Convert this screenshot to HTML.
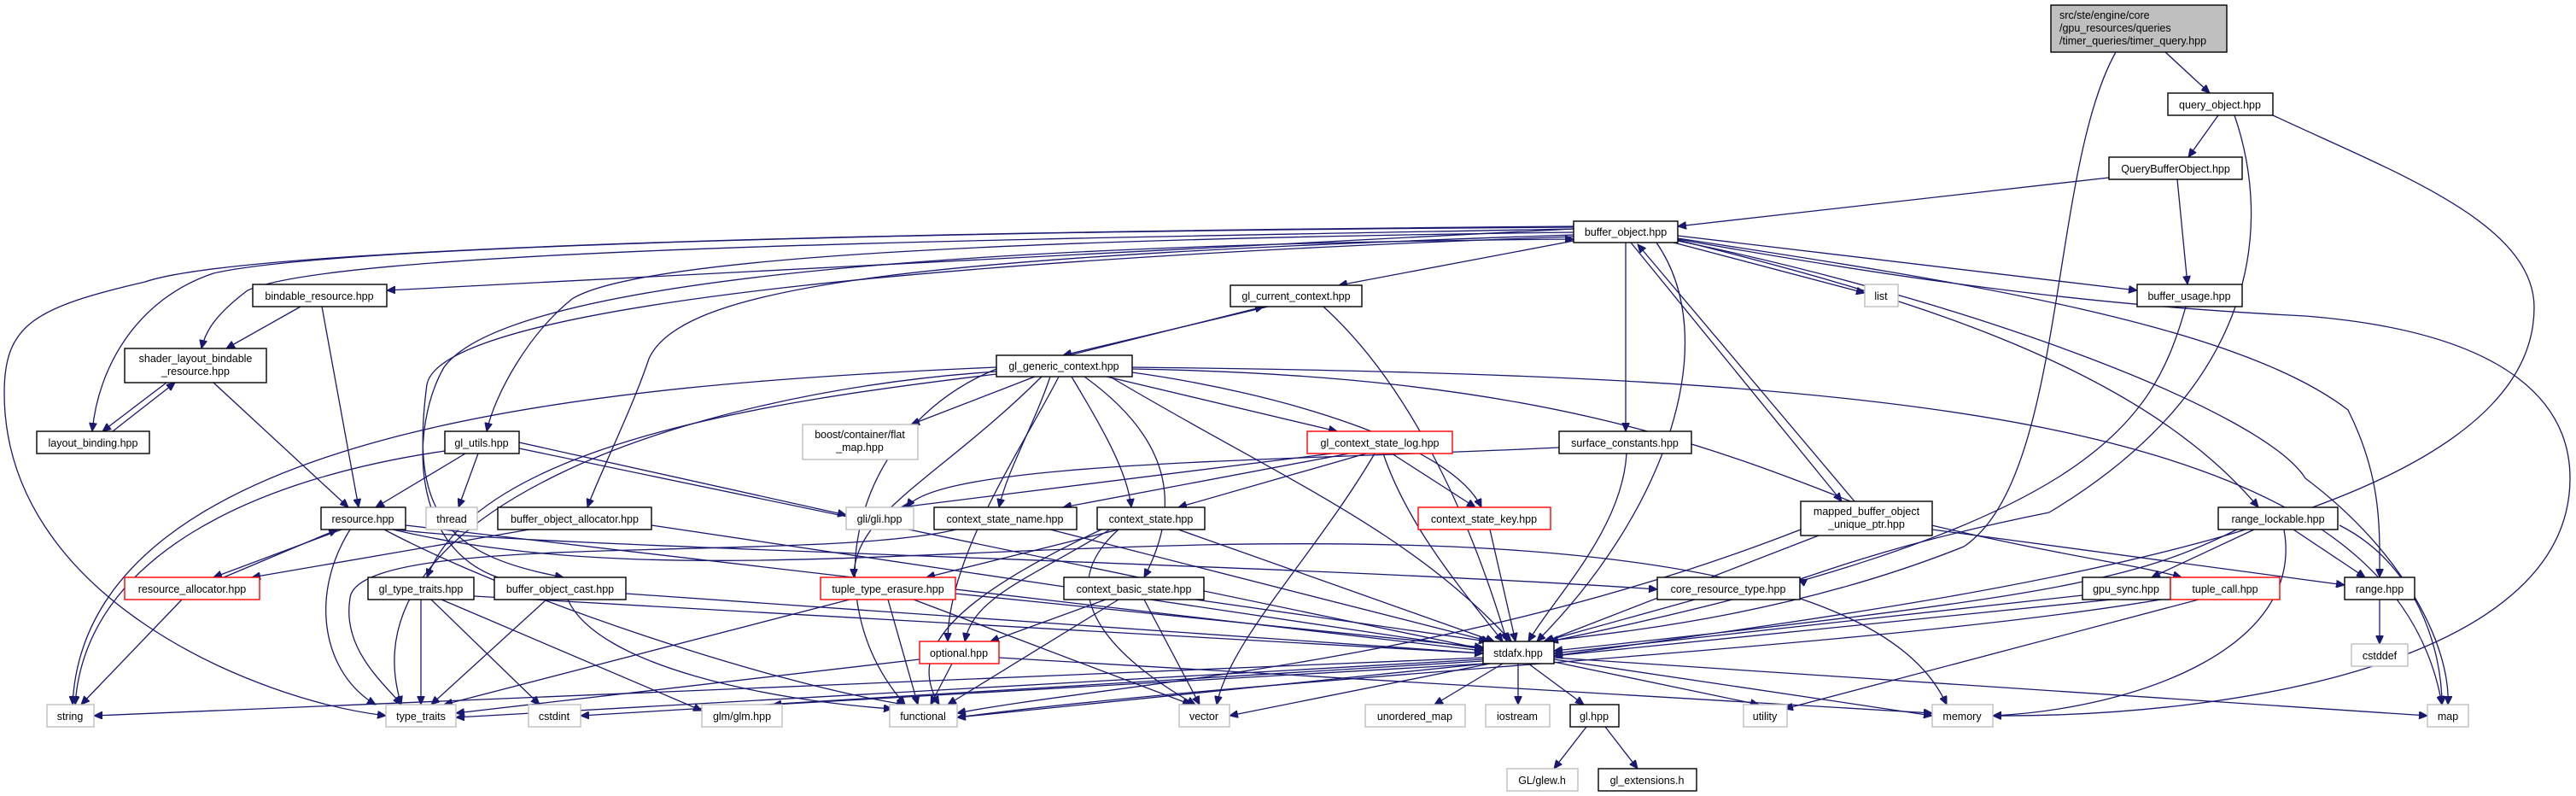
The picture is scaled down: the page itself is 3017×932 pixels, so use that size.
<!DOCTYPE html>
<html><head><meta charset="utf-8"><style>
html,body{margin:0;padding:0;background:#fff;}
svg{display:block}
text{font-family:"Liberation Sans",Arial,sans-serif;font-size:12.5px;fill:#000;text-anchor:middle;}
.e path{fill:none;stroke:#191970;stroke-width:1.3;marker-end:url(#a);}
.n rect{fill:#fff;stroke:#000;stroke-width:1.4;}
.g rect{fill:#fff;stroke:#bfbfbf;stroke-width:1.4;}
.r rect{fill:#fff;stroke:#ff0000;stroke-width:1.4;}
</style></head><body>
<svg width="3017" height="932" viewBox="0 0 3017 932" xmlns="http://www.w3.org/2000/svg">
<defs><marker id="a" markerUnits="userSpaceOnUse" markerWidth="11" markerHeight="9" refX="10" refY="4.5" orient="auto"><path d="M0,0 L10,4.5 L0,9 z" fill="#191970" stroke="#191970"/></marker></defs>
<g class="e">
<!-- root -->
<path d="M2536 61 L2588 109"/>
<path d="M2478 61 C2400 200 2420 560 2300 640 C2100 720 1900 740 1808 751"/>
<!-- query_object -->
<path d="M2598 135 L2563 184"/>
<path d="M2617 135 C2660 260 2650 450 2400 600 C2200 640 2110 680 2106 678"/>
<path d="M2662 135 C2800 200 2968 260 2968 360 C2968 620 2300 700 1820 768"/>
<!-- QBO -->
<path d="M2470 208 L1965 265"/>
<path d="M2550 210 L2562 333"/>
<!-- buffer_object -->
<path d="M1960 284 L2184 343"/>
<path d="M1965 276 L2503 340"/>
<path d="M1965 280 C2300 340 2500 360 2700 370 C2950 390 3010 480 3010 560 C3010 780 2600 840 2334 838"/>
<path d="M1965 279 C2300 330 2620 380 2750 480 C2790 560 2787 620 2787 676"/>
<path d="M1965 281 C2200 340 2500 420 2645 594"/>
<path d="M1965 282 C2300 350 2650 480 2700 560 C2820 650 2870 760 2867 825"/>
<path d="M1910 284 L2157 587"/>
<path d="M2172 587 L1918 286"/>
<path d="M1904 284 L1904 505"/>
<path d="M1940 284 C2020 400 1950 600 1800 751"/>
<path d="M1843 282 L1568 334"/>
<path d="M1843 268 L453 340"/>
<path d="M1843 268 C1200 280 400 290 290 340 C250 370 240 390 236 408"/>
<path d="M1843 266 C1200 270 400 285 250 320 C160 350 115 430 108 505"/>
<path d="M1843 265 C1200 270 300 285 170 330 C40 360 5 380 5 460 C5 700 300 820 452 838"/>
<path d="M1843 272 C1200 280 750 300 670 350 C620 390 580 460 570 505"/>
<path d="M1843 275 C1100 300 800 330 760 420 C740 480 700 560 688 594"/>
<path d="M1843 277 C1200 300 520 350 500 450 C480 600 520 650 660 676"/>
<path d="M583 676 C480 640 480 500 520 430 C600 320 1200 285 1843 280"/>
<!-- bindable -->
<path d="M352 359 L265 408"/>
<path d="M377 359 L420 594"/>
<!-- shader_layout / layout_binding -->
<path d="M195 448 L120 505"/>
<path d="M132 505 L205 448"/>
<path d="M250 448 L408 594"/>
<!-- gl_current_context -->
<path d="M1485 359 L1245 416"/>
<path d="M1252 416 L1480 359"/>
<path d="M1550 359 C1650 450 1720 600 1765 751"/>
<!-- gl_generic -->
<path d="M1212 441 L1067 497"/>
<path d="M1296 441 L1566 505"/>
<path d="M1230 441 C1210 500 1180 550 1170 594"/>
<path d="M1255 441 C1290 500 1320 550 1325 594"/>
<path d="M1270 441 C1380 520 1380 600 1340 676"/>
<path d="M1220 441 C1100 560 1000 600 1000 676"/>
<path d="M1240 441 C1200 520 1110 650 1110 751"/>
<path d="M1167 432 C1000 500 950 700 1060 825"/>
<path d="M1167 430 C700 450 100 500 85 825"/>
<path d="M1167 435 C800 460 400 600 470 825"/>
<path d="M1167 438 C900 470 560 520 500 676"/>
<path d="M1326 436 C1500 460 1700 520 1735 594"/>
<path d="M1326 432 C1800 440 2000 520 2200 600 C2400 650 2500 660 2555 676"/>
<path d="M1326 430 C2200 440 2800 480 2860 825"/>
<path d="M1300 441 C1500 560 1650 620 1770 751"/>
<!-- gl_context_state_log -->
<path d="M1560 531 L1055 594"/>
<path d="M1580 531 L1245 594"/>
<path d="M1600 531 L1380 594"/>
<path d="M1630 531 L1728 594"/>
<path d="M1620 531 C1650 620 1720 700 1760 751"/>
<path d="M1610 531 C1540 650 1440 750 1425 825"/>
<!-- surface -->
<path d="M1826 524 C1500 540 1100 540 1062 594"/>
<path d="M1905 531 C1900 620 1820 700 1790 751"/>
<!-- gl_utils -->
<path d="M545 531 L440 594"/>
<path d="M560 531 L537 594"/>
<path d="M608 518 L991 603"/>
<path d="M608 525 L1737 760"/>
<path d="M521 528 C300 560 100 650 88 825"/>
<!-- buffer_object_allocator -->
<path d="M620 620 L295 676"/>
<path d="M763 615 L1737 760"/>
<!-- resource -->
<path d="M400 620 L250 676"/>
<path d="M262 676 L395 620"/>
<path d="M410 620 C360 700 380 790 440 825"/>
<path d="M450 620 C600 700 900 800 1060 825"/>
<path d="M460 620 C800 700 1200 620 1700 640 C2150 660 2250 760 2280 825"/>
<path d="M465 620 C600 640 1500 660 1941 690"/>
<path d="M475 615 L1737 762"/>
<!-- resource_allocator -->
<path d="M213 702 L95 825"/>
<!-- gl_type_traits -->
<path d="M493 702 L493 825"/>
<path d="M505 702 L632 825"/>
<path d="M517 702 L822 832"/>
<path d="M555 698 L1737 765"/>
<!-- buffer_object_cast -->
<path d="M640 702 L505 825"/>
<path d="M665 702 C700 780 900 820 1045 830"/>
<path d="M733 695 L1737 765"/>
<!-- context_state_name -->
<path d="M1230 620 L1745 751"/>
<path d="M1120 620 C950 660 420 620 410 700 C400 760 450 800 470 825"/>
<!-- context_state -->
<path d="M1310 620 L1085 676"/>
<path d="M1300 620 C1200 680 1140 700 1130 751"/>
<path d="M1290 620 C1120 700 1060 760 1100 825"/>
<path d="M1310 620 C1220 700 1320 780 1400 825"/>
<path d="M1380 620 L1750 751"/>
<!-- context_state_key -->
<path d="M1745 620 L1775 751"/>
<!-- tuple_type_erasure -->
<path d="M1040 702 L1075 825"/>
<path d="M1070 702 L1395 825"/>
<path d="M995 702 L520 825"/>
<path d="M1119 695 L1737 758"/>
<!-- context_basic_state -->
<path d="M1295 702 L1160 751"/>
<path d="M1310 702 L1110 825"/>
<path d="M1340 702 L1405 825"/>
<path d="M1400 702 L1742 751"/>
<!-- optional -->
<path d="M1115 777 L1090 825"/>
<path d="M1077 772 L534 835"/>
<path d="M1170 770 L2263 835"/>
<!-- mapped -->
<path d="M2263 620 L2746 685"/>
<path d="M2130 627 L1810 751"/>
<path d="M2109 620 C1700 780 1300 800 1121 835"/>
<!-- range_lockable -->
<path d="M2640 620 L2520 676"/>
<path d="M2686 620 L2770 676"/>
<path d="M2675 620 C2700 760 2500 830 2334 838"/>
<path d="M2740 615 C2830 660 2860 760 2860 825"/>
<path d="M2620 620 C2500 680 2400 700 1820 762"/>
<!-- others -->
<path d="M1985 702 L1808 751"/>
<path d="M2439 697 L1820 765"/>
<path d="M2542 695 L1820 768"/>
<path d="M2575 702 L2090 830"/>
<path d="M2542 700 C2200 760 1500 790 1121 840"/>
<path d="M2560 359 C2520 500 2450 620 1815 751"/>
<path d="M2787 702 L2787 754"/>
<!-- stdafx -->
<path d="M1737 770 L110 838"/>
<path d="M1737 772 L534 840"/>
<path d="M1737 774 L680 838"/>
<path d="M1740 777 L905 825"/>
<path d="M1740 777 L1121 840"/>
<path d="M1745 777 L1440 838"/>
<path d="M1760 777 L1680 825"/>
<path d="M1778 777 L1778 825"/>
<path d="M1790 777 L1855 825"/>
<path d="M1820 775 L2060 825"/>
<path d="M1820 772 L2263 838"/>
<path d="M1820 770 L2843 838"/>
<!-- gl.hpp -->
<path d="M1858 851 L1820 900"/>
<path d="M1880 851 L1918 900"/>
</g>

<g class="n"><rect x="2402" y="6" width="206" height="55" fill="#bfbfbf" style="fill:#bfbfbf"/></g>
<text x="2412" y="22" style="text-anchor:start">src/ste/engine/core</text>
<text x="2412" y="37" style="text-anchor:start">/gpu_resources/queries</text>
<text x="2412" y="52" style="text-anchor:start">/timer_queries/timer_query.hpp</text>

<g class="n">
<rect x="2539" y="109" width="123" height="26"/>
<rect x="2470" y="184" width="156" height="26"/>
<rect x="1843" y="259" width="122" height="25"/>
<rect x="296" y="333" width="157" height="26"/>
<rect x="1441" y="334" width="154" height="25"/>
<rect x="2503" y="333" width="123" height="26"/>
<rect x="146" y="408" width="166" height="40"/>
<rect x="1167" y="416" width="159" height="25"/>
<rect x="43" y="505" width="132" height="26"/>
<rect x="521" y="505" width="87" height="26"/>
<rect x="1826" y="505" width="155" height="26"/>
<rect x="2109" y="587" width="154" height="40"/>
<rect x="376" y="594" width="99" height="26"/>
<rect x="583" y="594" width="180" height="26"/>
<rect x="1094" y="594" width="167" height="26"/>
<rect x="1285" y="594" width="126" height="26"/>
<rect x="2598" y="594" width="140" height="26"/>
<rect x="431" y="676" width="124" height="26"/>
<rect x="579" y="676" width="154" height="26"/>
<rect x="1246" y="676" width="164" height="26"/>
<rect x="1941" y="676" width="167" height="26"/>
<rect x="2439" y="676" width="103" height="26"/>
<rect x="2746" y="676" width="82" height="26"/>
<rect x="1737" y="751" width="83" height="26"/>
<rect x="1839" y="825" width="57" height="26"/>
<rect x="1872" y="900" width="115" height="26"/>
</g>
<g class="r">
<rect x="1531" y="505" width="170" height="26"/>
<rect x="1661" y="594" width="155" height="26"/>
<rect x="146" y="676" width="158" height="26"/>
<rect x="961" y="676" width="158" height="26"/>
<rect x="2542" y="676" width="128" height="26"/>
<rect x="1077" y="751" width="93" height="26"/>
</g>
<g class="g">
<rect x="2184" y="333" width="39" height="26"/>
<rect x="940" y="497" width="135" height="41"/>
<rect x="499" y="594" width="60" height="26"/>
<rect x="991" y="594" width="79" height="26"/>
<rect x="2754" y="754" width="66" height="26"/>
<rect x="55" y="825" width="55" height="26"/>
<rect x="452" y="825" width="82" height="26"/>
<rect x="619" y="825" width="61" height="26"/>
<rect x="822" y="825" width="94" height="26"/>
<rect x="1042" y="825" width="79" height="26"/>
<rect x="1381" y="825" width="59" height="26"/>
<rect x="1599" y="825" width="117" height="26"/>
<rect x="1740" y="825" width="75" height="26"/>
<rect x="2042" y="825" width="51" height="26"/>
<rect x="2263" y="825" width="71" height="26"/>
<rect x="2843" y="825" width="48" height="26"/>
<rect x="1765" y="900" width="83" height="26"/>
</g>

<text x="2600" y="127">query_object.hpp</text>
<text x="2548" y="202">QueryBufferObject.hpp</text>
<text x="1904" y="276">buffer_object.hpp</text>
<text x="374" y="351">bindable_resource.hpp</text>
<text x="1518" y="351">gl_current_context.hpp</text>
<text x="2203" y="351">list</text>
<text x="2564" y="351">buffer_usage.hpp</text>
<text x="229" y="424">shader_layout_bindable</text>
<text x="229" y="439">_resource.hpp</text>
<text x="1246" y="433">gl_generic_context.hpp</text>
<text x="109" y="523">layout_binding.hpp</text>
<text x="564" y="523">gl_utils.hpp</text>
<text x="1007" y="513">boost/container/flat</text>
<text x="1007" y="528">_map.hpp</text>
<text x="1616" y="523">gl_context_state_log.hpp</text>
<text x="1903" y="523">surface_constants.hpp</text>
<text x="2186" y="603">mapped_buffer_object</text>
<text x="2186" y="618">_unique_ptr.hpp</text>
<text x="425" y="612">resource.hpp</text>
<text x="529" y="612">thread</text>
<text x="673" y="612">buffer_object_allocator.hpp</text>
<text x="1030" y="612">gli/gli.hpp</text>
<text x="1177" y="612">context_state_name.hpp</text>
<text x="1348" y="612">context_state.hpp</text>
<text x="1738" y="612">context_state_key.hpp</text>
<text x="2668" y="612">range_lockable.hpp</text>
<text x="225" y="694">resource_allocator.hpp</text>
<text x="493" y="694">gl_type_traits.hpp</text>
<text x="656" y="694">buffer_object_cast.hpp</text>
<text x="1040" y="694">tuple_type_erasure.hpp</text>
<text x="1328" y="694">context_basic_state.hpp</text>
<text x="2024" y="694">core_resource_type.hpp</text>
<text x="2490" y="694">gpu_sync.hpp</text>
<text x="2606" y="694">tuple_call.hpp</text>
<text x="2787" y="694">range.hpp</text>
<text x="1123" y="769">optional.hpp</text>
<text x="1778" y="769">stdafx.hpp</text>
<text x="2787" y="772">cstddef</text>
<text x="82" y="843">string</text>
<text x="493" y="843">type_traits</text>
<text x="649" y="843">cstdint</text>
<text x="869" y="843">glm/glm.hpp</text>
<text x="1081" y="843">functional</text>
<text x="1410" y="843">vector</text>
<text x="1657" y="843">unordered_map</text>
<text x="1777" y="843">iostream</text>
<text x="1867" y="843">gl.hpp</text>
<text x="2067" y="843">utility</text>
<text x="2298" y="843">memory</text>
<text x="2867" y="843">map</text>
<text x="1806" y="918">GL/glew.h</text>
<text x="1929" y="918">gl_extensions.h</text>
</svg>
</body></html>
